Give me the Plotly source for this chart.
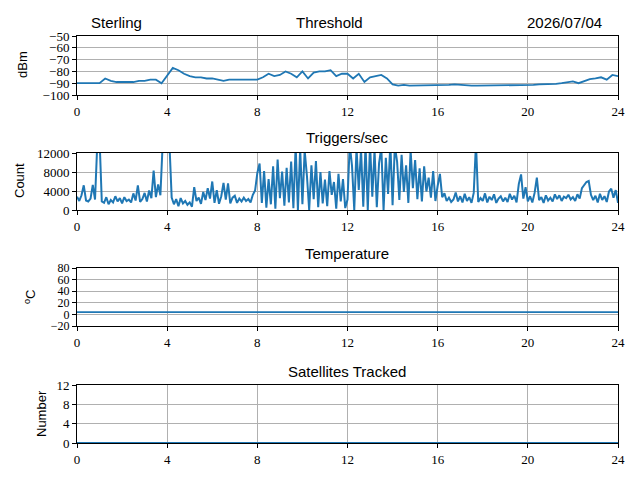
import numpy as np
import plotly.graph_objects as go

# Threshold (dBm), every 15 min
threshold = [
    -90, -90, -90, -90.5,
    -90, -86, -88, -89,
    -89, -89, -89, -88,
    -88, -87, -87, -90,
    -84, -77, -79, -82,
    -84, -85, -85, -86,
    -86, -87, -88, -87,
    -87, -87, -87, -87,
    -87, -85, -82, -84,
    -83, -80, -82, -85,
    -80, -86, -81, -80,
    -80, -79, -84, -82,
    -82, -86, -82, -89,
    -85, -84, -83, -86,
    -91, -92, -91.5, -92,
    -92, -92, -92, -91.5,
    -92, -92, -91.5, -91,
    -91.5, -92, -92, -92,
    -92, -91.5, -92, -92,
    -92, -91.5, -92, -92,
    -91.5, -91.5, -91, -91,
    -91, -90.5, -90, -89,
    -88.5, -90, -88, -86.5,
    -86, -85, -87, -83,
    -84,
]

# Triggers/sec, every 6 min
triggers = [
    2800, 1900, 3100, 5200, 2000, 1800, 2400, 5300, 2200, 14000,
    15000, 1800, 1500, 2700, 1200, 2100, 1600, 2900, 1800, 2500,
    1400, 2700, 1900, 2200, 1600, 3500, 2000, 5200, 1700, 2300,
    3600, 1800, 4100, 2500, 8300, 2700, 5400, 3100, 14000, 16000,
    15000, 14000, 2600, 1200, 2300, 800, 2500, 1400, 1900, 1100,
    1600, 700, 4800, 1900, 2600, 1300, 3800, 2100, 4600, 2400,
    6000, 1500, 4200, 1300, 2900, 5700, 2200, 5600, 1400, 2600,
    3000, 1500, 2400, 1800, 2600, 1900, 2300, 1600, 3200, 4100,
    7800, 9800, 1500, 8200, 500, 6500, 1200, 9200, 300, 10600,
    2500, 8100, 900, 8900, 1600, 10200, 400, 13500, 0, 12900,
    1200, 12500, 7200, 0, 9400, 2300, 10300, 600, 8000, 1400,
    6400, 800, 8200, 3200, 5900, 300, 7600, 1800, 6500, 400,
    2200, 13800, 9300, 0, 13000, 4200, 12800, 700, 13600, 0,
    13900, 2800, 12600, 600, 9800, 13200, 0, 11000, 3400, 14000,
    1000, 13500, 10200, 2100, 11600, 3800, 9400, 1500, 12500, 4600,
    10500, 2300, 8800, 1800, 9200, 3900, 6800, 2600, 8200, 1900,
    5100, 7600, 2700, 3500, 1900, 2600, 1700, 2200, 3700, 1800,
    2900, 1600, 3400, 1900, 2700, 1500, 3600, 14000, 1700, 2500,
    1900, 3500, 1600, 2800, 2100, 3300, 1500, 2400, 2900, 1800,
    2600, 1700, 3400, 2200, 3000, 1600, 5500, 7500, 2400, 4800,
    1800, 2900, 1600, 3600, 6800, 2100, 2700, 1500, 3100, 2000,
    2600, 1800, 3300, 2300, 3100, 1900, 2800, 2500, 3200, 2200,
    2700, 1900, 3300, 2400, 4600, 5300, 5900, 6100, 3200, 2100,
    3000, 1600, 3400, 2100, 2900, 1700, 3900, 4500, 2600, 4200,
    1500,
]

temperature = [4, 4]
satellites = [0, 0]

t_thr = np.linspace(0, 24, len(threshold))
t_trig = np.linspace(0, 24, len(triggers))
t_flat = [0, 24]

xticks = [0, 4, 8, 12, 16, 20, 24]
yticks = [
    [-100, -90, -80, -70, -60, -50],
    [0, 4000, 8000, 12000],
    [-20, 0, 20, 40, 60, 80],
    [0, 4, 8, 12],
]
yranges = [[-100, -50], [0, 12000], [-20, 80], [0, 12]]

W, H = 640, 480
OFF = 8  # page body margin in the browser
# panel pixel boxes (top, bottom) as seen on screen
panels = [(36, 95), (153, 210), (268, 326), (385, 443)]
x0, x1 = 77, 618

def fx(px):
    return (px - OFF) / W

def fy(py):
    return 1 - (py - OFF) / H

blue = "#1f77b4"
fig = go.Figure()
series = [(t_thr, threshold), (t_trig, triggers), (t_flat, temperature), (t_flat, satellites)]
widths = [1.8, 2.0, 1.8, 1.8]
for i, (xs, ys) in enumerate(series):
    n = "" if i == 0 else str(i + 1)
    fig.add_trace(go.Scatter(x=xs, y=ys, mode="lines", line=dict(color=blue, width=widths[i]),
                             xaxis="x" + n, yaxis="y" + n, showlegend=False))

def minus(v):
    return str(v).replace("-", "\u2212")

tickfont = dict(family="Liberation Serif", size=13, color="black")
layout = dict(width=W, height=H, margin=dict(l=0, r=0, t=0, b=0, autoexpand=False),
              plot_bgcolor="white", paper_bgcolor="white")
for i, (top, bot) in enumerate(panels):
    n = "" if i == 0 else str(i + 1)
    common = dict(showline=True, linecolor="black", linewidth=1, mirror=True,
                  showgrid=True, gridcolor="#b0b0b0", gridwidth=1,
                  ticks="outside", ticklen=4, tickcolor="black",
                  tickfont=tickfont, zeroline=False, automargin=False)
    layout["xaxis" + n] = dict(common, domain=[fx(x0), fx(x1)], range=[0, 24],
                               tickvals=xticks, ticktext=[str(v) for v in xticks],
                               anchor="y" + n)
    yfont = dict(tickfont, size=12) if i == 2 else tickfont
    layout["yaxis" + n] = dict(common, domain=[fy(bot), fy(top)], range=yranges[i],
                               tickvals=yticks[i], ticktext=[minus(v) for v in yticks[i]],
                               anchor="x" + n, tickfont=yfont)
fig.update_layout(**layout)

sans = "Liberation Sans"
titles = [("Sterling", 89, 22, "left"), ("Threshold", 329, 22, "center"),
          ("2026/07/04", 604, 22, "right"), ("Triggers/sec", 347, 138, "center"),
          ("Temperature", 347, 254, "center"), ("Satellites Tracked", 347, 371, "center")]
for txt, px, py, anc in titles:
    fig.add_annotation(text=txt, x=fx(px), y=fy(py), xref="paper", yref="paper",
                       xanchor=anc, yanchor="middle", showarrow=False,
                       font=dict(family=sans, size=15, color="black"))

ylabels = [("dBm", 22, 65), ("Count", 20, 181), ("<sup>o</sup>C", 30, 297), ("Number", 41, 414)]
for txt, px, py in ylabels:
    fig.add_annotation(text=txt, x=fx(px), y=fy(py), xref="paper", yref="paper",
                       xanchor="center", yanchor="middle", showarrow=False, textangle=-90,
                       font=dict(family=sans, size=13, color="black"))

fig.write_html("out.html")
